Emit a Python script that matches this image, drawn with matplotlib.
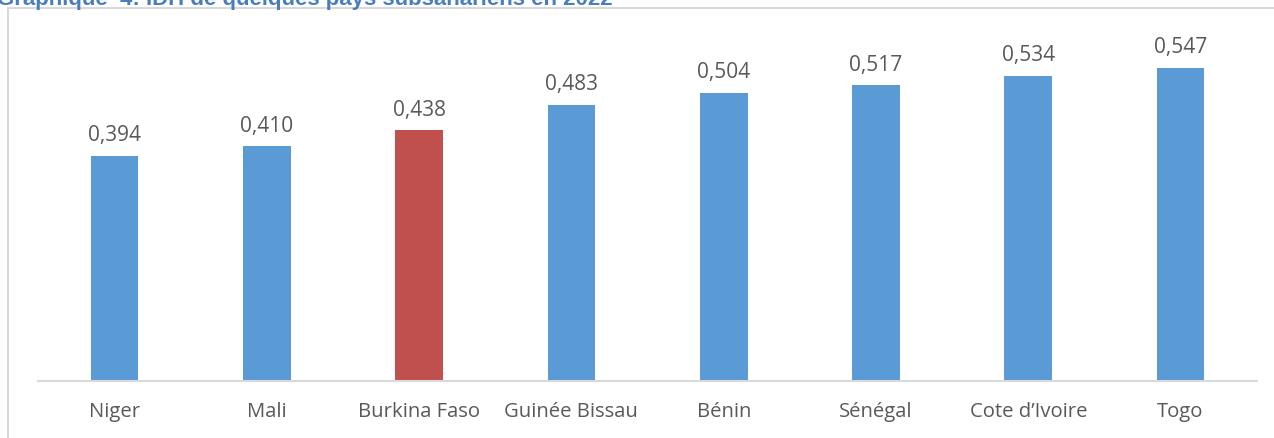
import matplotlib
matplotlib.use("Agg")
import matplotlib.pyplot as plt
from matplotlib.patches import Rectangle

countries = ["Niger", "Mali", "Burkina Faso", "Guinée Bissau", "Bénin",
             "Sénégal", "Cote d’Ivoire", "Togo"]
idh = [0.394, 0.410, 0.438, 0.483, 0.504, 0.517, 0.534, 0.547]
highlight = "Burkina Faso"
title = "Graphique  4: IDH de quelques pays subsahariens en 2022"

BLUE = "#5b9bd5"
RED = "#c0504d"
TXT = "#595959"

W, H = 1274, 439
fig = plt.figure(figsize=(W / 100, H / 100), dpi=100)
fig.patch.set_facecolor("white")

# outer frame (partially outside the picture)
fig.patches.append(Rectangle((8 / W, -0.2), 1.2, 1 - 9 / H + 0.2,
                             transform=fig.transFigure, fill=False,
                             edgecolor="#d9d9d9", linewidth=1.5))

left, right = 38.4 / W, 1256.7 / W
bottom = (H - 381.5) / H
ymax = 0.6
top_px = 381.5 - ymax * 571
ax = fig.add_axes([left, bottom, right - left, (381.5 - top_px) / H])

x = list(range(len(countries)))
colors = [RED if c == highlight else BLUE for c in countries]
bars = ax.bar(x, idh, width=0.313, color=colors, zorder=2)
ax.set_xlim(-0.5, len(countries) - 0.5)
ax.set_ylim(0, ymax)

for b, v in zip(bars, idh):
    ax.annotate(f"{v:.3f}".replace(".", ","),
                (b.get_x() + b.get_width() / 2, v),
                xytext=(0, 11.3), textcoords="offset points",
                ha="center", va="baseline", fontsize=15,
                family="Open Sans", color=TXT)

ax.set_xticks(x)
ax.set_xticklabels(countries, fontsize=14.6, family="Open Sans", color=TXT)
ax.tick_params(axis="x", length=0, pad=14.5)
ax.set_yticks([])
for s in ["left", "right", "top"]:
    ax.spines[s].set_visible(False)
ax.spines["bottom"].set_color("#d9d9d9")
ax.spines["bottom"].set_linewidth(1.5)
ax.set_facecolor("none")

fig.text(-0.002, 1 - 4.5 / H, title, ha="left", va="baseline",
         fontsize=16, fontweight="bold", family="Liberation Sans",
         color="#4a7ebb")

fig.savefig("out.png", dpi=100)
